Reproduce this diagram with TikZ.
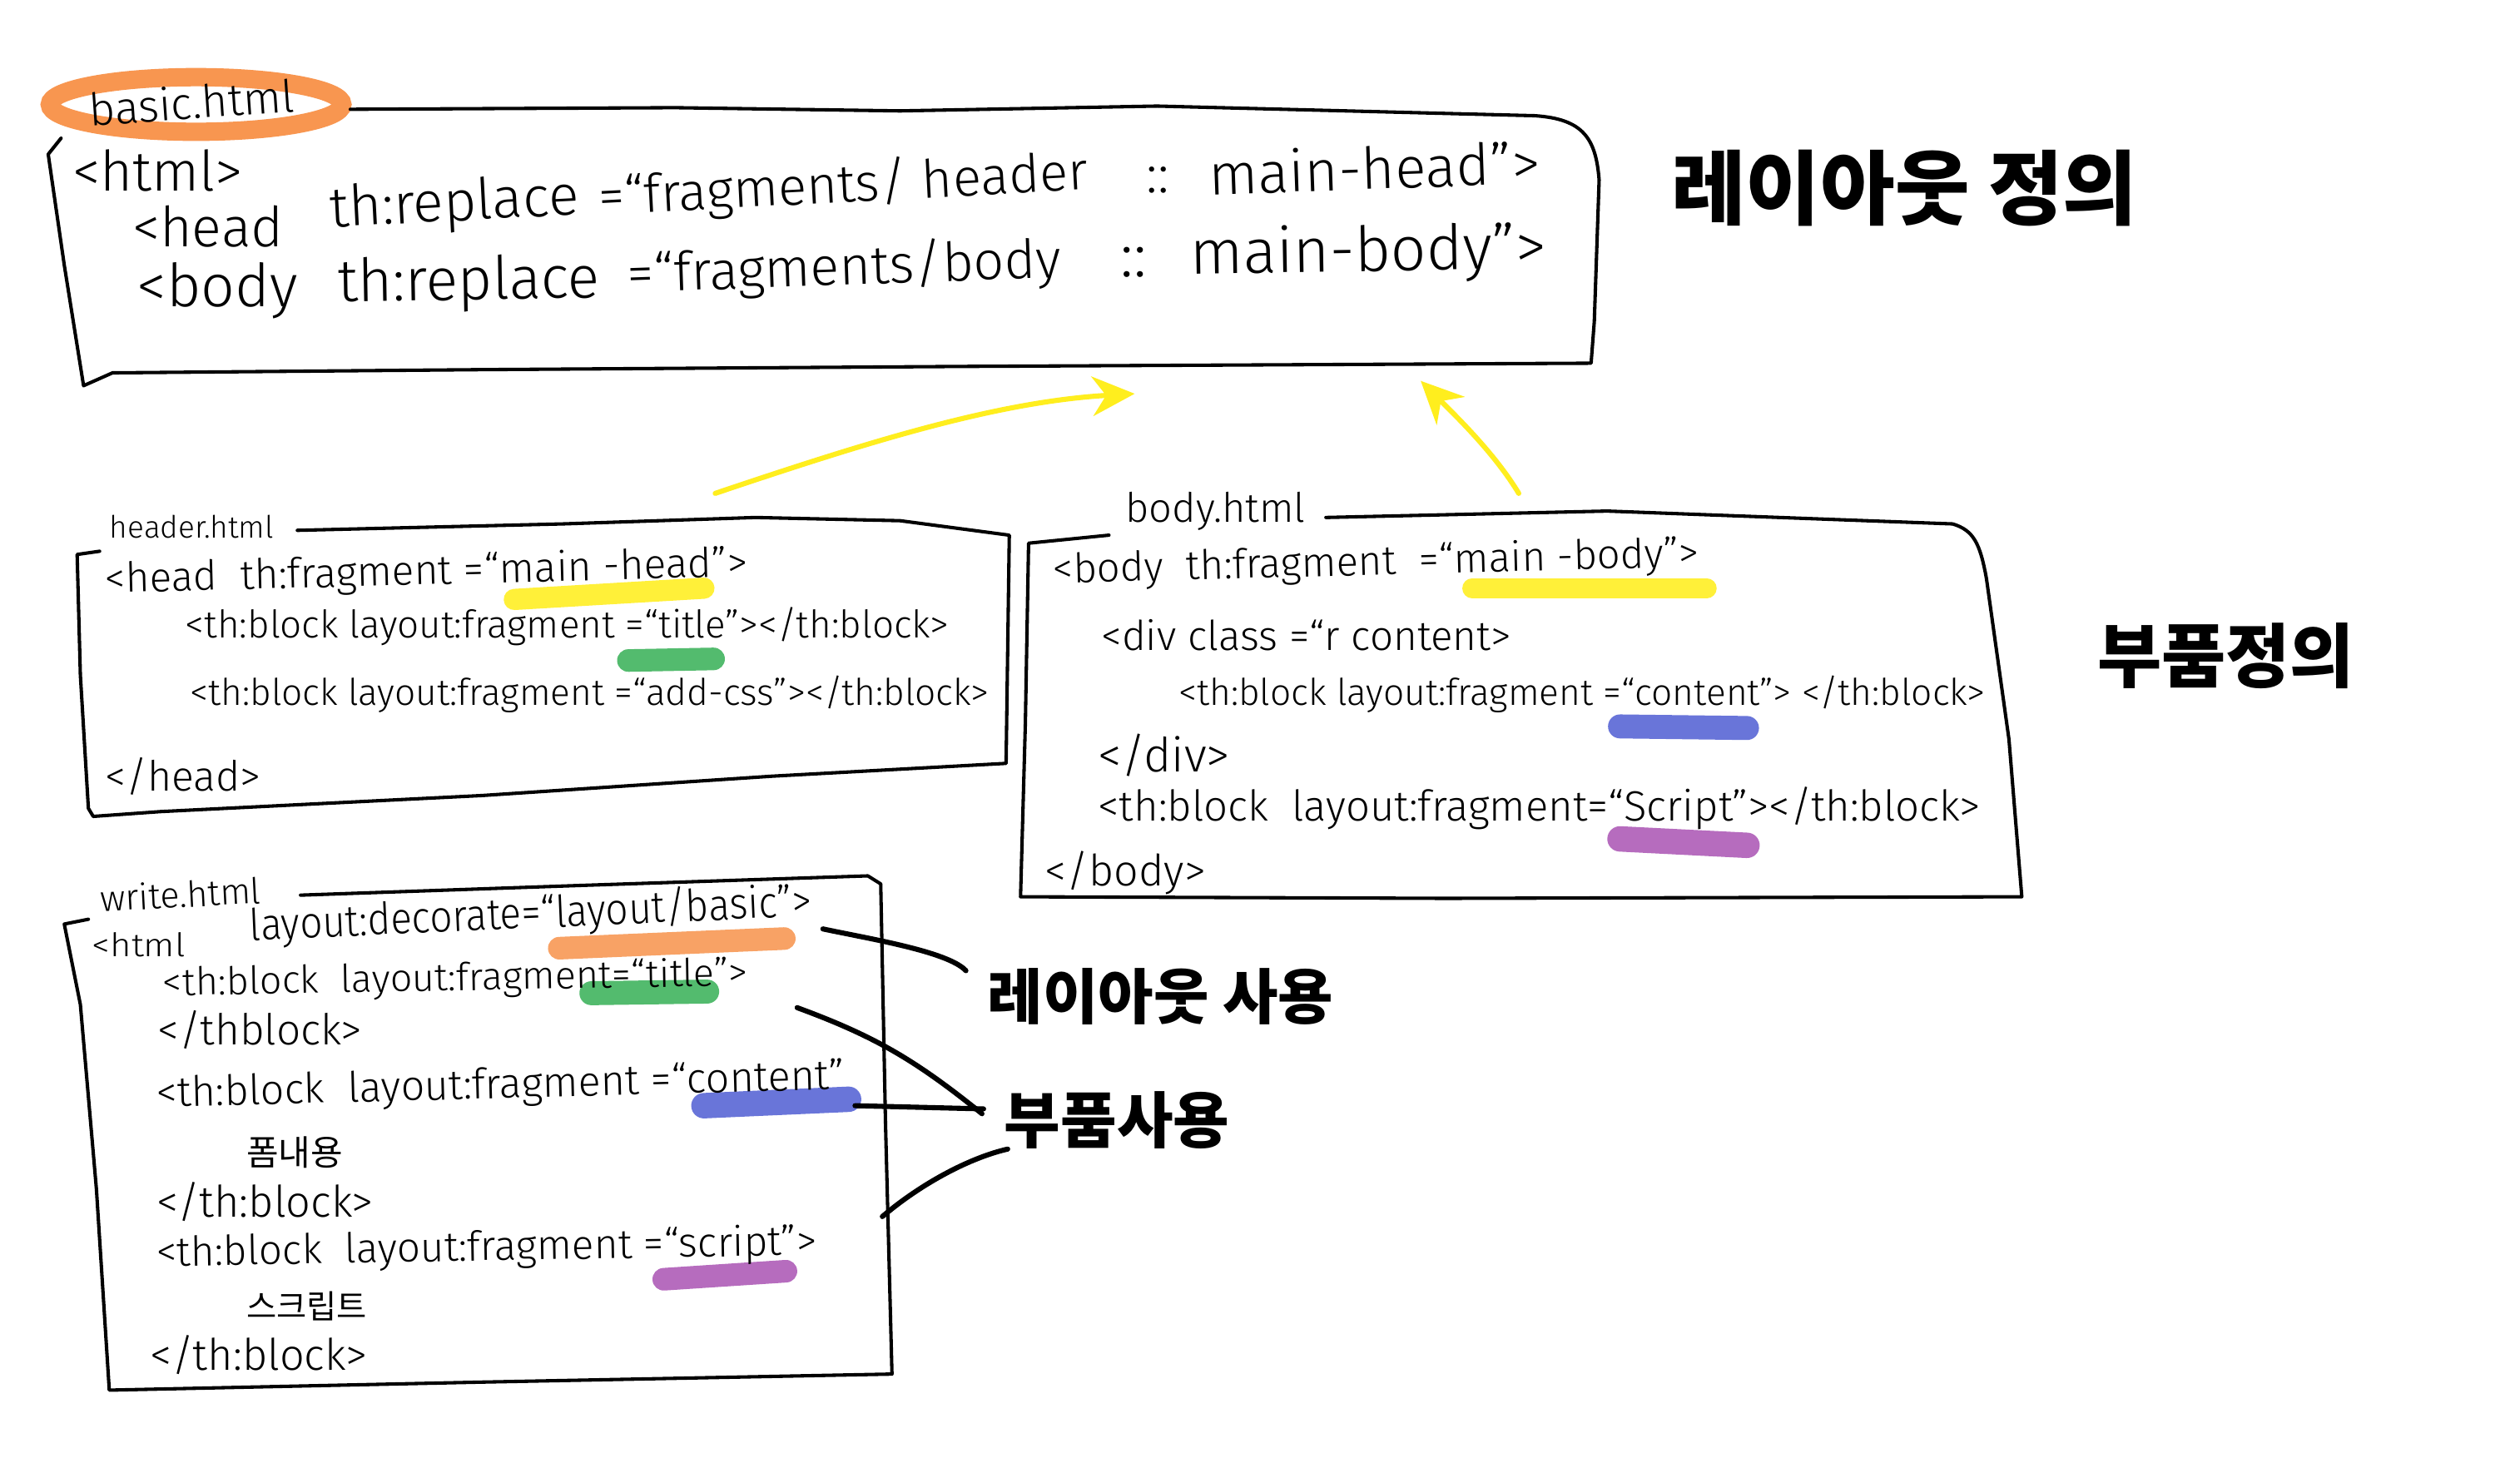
\documentclass[tikz,border=0pt]{standalone}
\usepackage{fontspec}
\usetikzlibrary{arrows.meta}
\newfontfamily\codefont{Fira Sans}[UprightFont={* Light}]
\newfontfamily\krfont{Noto Sans CJK KR}
\newlength\upx
\setlength\upx{0.02cm}
\newcommand\cw[2]{\resizebox{#1\upx}{!}{\codefont #2}}
\newcommand\cwh[3]{\resizebox{#1\upx}{#2\upx}{\codefont #3}}
\newcommand\kw[2]{\resizebox{#1\upx}{!}{\krfont #2}}
\newcommand\kb[2]{\resizebox{#1\upx}{!}{\krfont\bfseries #2}}
\definecolor{hlyellow}{RGB}{255,238,30}
\definecolor{hlorange}{RGB}{248,150,80}
\definecolor{hlgreen}{RGB}{60,178,90}
\definecolor{hlblue}{RGB}{85,98,212}
\definecolor{hlpurple}{RGB}{172,88,182}
\tikzset{
  box/.style={line width=1.2pt, line join=round, line cap=round, draw=black},
  conn/.style={line width=1.8pt, line cap=round, draw=black},
  yarr/.style={draw=hlyellow, line width=1.8pt, line cap=round, -{Stealth[length=15pt,width=14pt]}},
  hilite/.style={line cap=round, opacity=0.88},
  code/.style={inner sep=0pt, anchor=west},
  krlabel/.style={inner sep=0pt}
}
\begin{document}
\begin{tikzpicture}[x=0.02cm,y=-0.02cm]
\useasboundingbox[fill=white] (0,0) rectangle (1568,913);

% ---------- basic.html ----------
\draw[draw=hlorange, line width=6.5pt] (122,65) ellipse [x radius=91, y radius=17];
\draw[box] (218,68) -- (420,67) -- (560,69) -- (720,66) -- (955,72)
  .. controls (985,74) and (993,86) .. (995,112) -- (992,200) -- (990,226)
  -- (600,228) -- (300,230) -- (70,232) -- (52,240) -- (40,165) -- (30,96) -- (38,86);
\node[code, rotate=4] (bname) at (55,68) {\cw{128}{basic.html}};
\node[code] (bt1) at (45,106) {\cw{106}{<html>}};
\node[code] (bh1) at (82,141) {\cw{94}{<head}};
\node[code, rotate=3] (bh2) at (205,132) {\cw{155}{th:replace}};
\node[code, rotate=3] (bh3) at (372,124) {\cw{305}{=“fragments/ header}};
\node[code] (bh4) at (713,112) {\cw{14}{::}};
\node[code, rotate=2] (bh5) at (752,108) {\cw{206}{main-head”>}};
\node[code] (bb1) at (85,181) {\cw{100}{<body}};
\node[code, rotate=1] (bb2) at (210,178) {\cw{163}{th:replace}};
\node[code, rotate=2] (bb3) at (390,172) {\cw{270}{=“fragments/body}};
\node[code] (bb4) at (697,163) {\cw{16}{::}};
\node[code, rotate=1] (bb5) at (740,160) {\cw{222}{main-body”>}};

\node[krlabel] (laydef) at (1185,117) {\kb{290}{레이아웃 정의}};

% ---------- header.html ----------
\draw[hilite, draw=hlyellow, line width=7.5pt] (320,373) -- (438,366);
\draw[hilite, draw=hlgreen, line width=8pt] (391,411) -- (444,410);
\draw[box] (185,330) -- (350,326) -- (470,322) -- (560,324) -- (628,333)
  -- (626,475) -- (480,483) -- (300,495) -- (100,505) -- (58,508) -- (55,503)
  -- (50,420) -- (48,345) -- (62,343);
\node[code] (hname) at (68,328) {\cw{102}{header.html}};
\node[code, rotate=1.5] (h1) at (65,362) {\cw{400}{<head\ \ th:fragment =“main -head”>}};
\node[code] (h2) at (115,390) {\cw{475}{<th:block layout:fragment =“title”></th:block>}};
\node[code] (h3) at (118,432) {\cw{497}{<th:block layout:fragment =“add-css”></th:block>}};
\node[code] (h4) at (65,483) {\cw{97}{</head>}};

% ---------- body.html ----------
\draw[hilite, draw=hlyellow, line width=7pt] (916,366) -- (1062,366);
\draw[hilite, draw=hlblue, line width=8.5pt] (1008,452) -- (1087,453);
\draw[hilite, draw=hlpurple, line width=9pt] (1008,522) -- (1087,526);
\draw[box] (825,322) -- (1000,318) -- (1215,326) .. controls (1228,330) and (1232,338) .. (1236,360)
  -- (1250,460) -- (1258,558) -- (900,559) -- (635,558) -- (638,450) -- (640,338) -- (690,333);
\node[code] (bname2) at (700,318) {\cw{112}{body.html}};
\node[code, rotate=1.5] (b1) at (655,356) {\cw{402}{<body\ \ th:fragment \ =“main -body”>}};
\node[code] (b2) at (685,395) {\cw{255}{<div class =“r content>}};
\node[code] (b3) at (733,432) {\cw{502}{<th:block layout:fragment =“content”> </th:block>}};
\node[code] (b4) at (683,470) {\cw{82}{</div>}};
\node[code] (b5) at (683,503) {\cw{549}{<th:block \ layout:fragment=“Script”></th:block>}};
\node[code] (b6) at (650,543) {\cw{100}{</body>}};

\node[krlabel] (partdef) at (1385,408) {\kb{160}{부품정의}};

% ---------- yellow arrows ----------
\coordinate (hdrTip) at (445,307);
\coordinate (basicIn1) at (706,245);
\coordinate (bodyTip) at (945,307);
\coordinate (basicIn2) at (884,237);
\draw[yarr] (hdrTip) .. controls (540,275) and (620,250) .. (basicIn1);
\draw[yarr] (bodyTip) .. controls (930,282) and (905,258) .. (basicIn2);

% ---------- write.html ----------
\draw[hilite, draw=hlorange, line width=8pt] (348,590) -- (488,584);
\draw[hilite, draw=hlgreen, line width=8.5pt] (368,618) -- (440,617);
\draw[hilite, draw=hlblue, line width=9pt] (438,688) -- (528,684);
\draw[hilite, draw=hlpurple, line width=8pt] (413,796) -- (489,791);
\draw[box] (187,557) -- (360,551) -- (540,545) -- (548,550) -- (551,700) -- (555,855)
  -- (300,860) -- (68,865) -- (60,740) -- (50,625) -- (40,575) -- (55,572);
\node[code, rotate=3] (wname) at (62,559) {\cw{100}{write.html}};
\node[code] (w1a) at (57,588) {\cwh{58}{15}{<html}};
\node[code, rotate=2.5] (w1b) at (155,577) {\cwh{350}{22}{layout:decorate=“layout/basic”>}};
\node[code, rotate=1] (w2) at (101,613) {\cwh{364}{18}{<th:block \ layout:fragment=“title”>}};
\node[code] (w3) at (98,641) {\cw{127}{</thblock>}};
\node[code, rotate=1.5] (w4) at (97,682) {\cw{428}{<th:block \ layout:fragment =“content”}};
\node[code] (w5) at (153,717) {\kw{60}{폼내용}};
\node[code] (w6) at (97,748) {\cw{135}{</th:block>}};
\node[code, rotate=1] (w7) at (97,781) {\cw{411}{<th:block \ layout:fragment =“script”>}};
\node[code] (w8) at (153,813) {\kw{75}{스크립트}};
\node[code] (w9) at (93,843) {\cw{135}{</th:block>}};

% ---------- usage labels ----------
\node[krlabel] (layuse) at (722,620) {\kb{215}{레이아웃 사용}};
\node[krlabel] (partuse) at (695,697) {\kb{140}{부품사용}};

\coordinate (c1s) at (512,578);
\coordinate (c1e) at (601,604);
\coordinate (c2s) at (496,627);
\coordinate (c2e) at (611,693);
\coordinate (c3s) at (532,688);
\coordinate (c3e) at (612,690);
\coordinate (c4s) at (549,757);
\coordinate (c4e) at (627,715);
\draw[conn] (c1s) .. controls (540,584) and (590,592) .. (c1e);
\draw[conn] (c2s) .. controls (545,645) and (570,660) .. (c2e);
\draw[conn] (c3s) -- (c3e);
\draw[conn] (c4s) .. controls (575,735) and (605,720) .. (c4e);
\end{tikzpicture}
\end{document}
